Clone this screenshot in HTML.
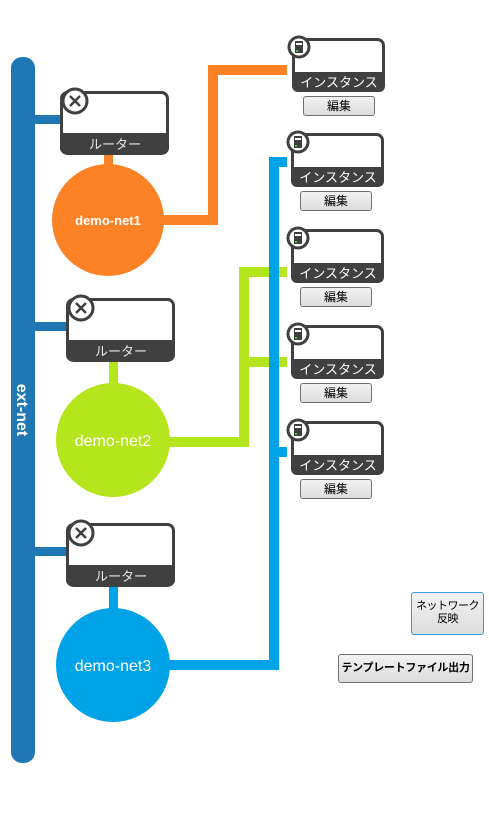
<!DOCTYPE html>
<html><head><meta charset="utf-8"><style>
body{margin:0;background:#fff;width:489px;height:824px;overflow:hidden;font-family:"Liberation Sans","Noto Sans CJK JP",sans-serif}
svg{position:absolute;left:0;top:0}
.btn{position:absolute;box-sizing:border-box;border:1px solid #707070;border-radius:3px;background:linear-gradient(#f2f2f2,#dddddd);font-size:12px;text-align:center;color:#000;white-space:nowrap;overflow:hidden}
</style></head><body>
<svg width="489" height="824">
<g id="g"></g>
</svg>
<div class="btn" style="left:303px;top:96px;width:72px;height:20px;line-height:18px">編集</div>
<div class="btn" style="left:300px;top:191px;width:72px;height:20px;line-height:18px">編集</div>
<div class="btn" style="left:300px;top:287px;width:72px;height:20px;line-height:18px">編集</div>
<div class="btn" style="left:300px;top:383px;width:72px;height:20px;line-height:18px">編集</div>
<div class="btn" style="left:300px;top:479px;width:72px;height:20px;line-height:18px">編集</div>
<div class="btn" style="left:411px;top:592px;width:73px;height:43px;border-color:#3c9bd6;line-height:13px;padding-top:7px;font-size:11px;letter-spacing:-0.5px">ネットワーク<br>反映</div>
<div class="btn" style="left:338px;top:654px;width:135px;height:29px;line-height:27px;font-weight:bold;font-size:11px;letter-spacing:-0.3px">テンプレートファイル出力</div>
<script>
const nets=["demo-net1","demo-net2","demo-net3"];
const netColors=["#fd8125","#b5e51d","#00a2e8"];
const instances=["インスタンス","インスタンス","インスタンス","インスタンス","インスタンス"];
const g=document.getElementById('g');
const NS="http://www.w3.org/2000/svg";
function el(t,a,txt){const e=document.createElementNS(NS,t);for(const k in a)e.setAttribute(k,a[k]);if(txt)e.textContent=txt;g.appendChild(e);return e;}
let e;
e=el('path',{d:"M160 220 H213 V70 H287",stroke:"#fd8125","stroke-width":10,fill:"none"});

e=el('path',{d:"M165 442 H244 V272 H287 M244 362 H287",stroke:"#b5e51d","stroke-width":10,fill:"none"});

e=el('path',{d:"M165 665 H274 V162 H287 M274 452 H287",stroke:"#00a2e8","stroke-width":10,fill:"none"});

e=el('rect',{x:11,y:57,width:24,height:706,rx:11,fill:"#1f77b4"});

e=el('text',{x:0,y:0,transform:"translate(17,410) rotate(90)","text-anchor":"middle",fill:"#fff","font-size":16,"font-weight":"bold"},"ext-net");

const routerY=[91,298,523], routerX=[60,66,66], netC=[[108,220,56],[113,440,57],[113,665,57]];
for(let i=0;i<3;i++){
 const x=routerX[i],y=routerY[i];
 e=el('rect',{x:34,y:y+24,width:x-34+2,height:9,fill:"#1f77b4"});
 
 e=el('rect',{x:netC[i][0]-4,y:y+62,width:9,height:netC[i][1]-netC[i][2]-y-60,fill:netColors[i]});
 
 e=el('rect',{x:x+1.5,y:y+1.5,width:106,height:61,rx:6,fill:"#fff",stroke:"#404040","stroke-width":3});
 
 e=el('path',{d:`M${x} ${y+42} H${x+109} V${y+57} a6 6 0 0 1 -6 6 H${x+6} a6 6 0 0 1 -6 -6 Z`,fill:"#404040"});
 e=el('text',{x:x+55,y:y+58,"text-anchor":"middle",fill:"#e8e8e8","font-size":13},"ルーター");
 
 e=el('circle',{cx:x+15,cy:y+10,r:12,fill:"#fff",stroke:"#404040","stroke-width":3});
 
 el('path',{d:`M${x+10} ${y+5} L${x+20} ${y+15} M${x+20} ${y+5} L${x+10} ${y+15}`,stroke:"#404040","stroke-width":2.5});
 e=el('circle',{cx:netC[i][0],cy:netC[i][1],r:netC[i][2],fill:netColors[i]});
 
 e=el('text',{x:netC[i][0],y:netC[i][1]+(i?6:5),"text-anchor":"middle",fill:"#fff","font-size":i?16:13,"font-weight":i?"normal":"bold"},nets[i]);
 
}
const instY=[38,133,229,325,421];
instances.forEach((n,i)=>{
 const x=i?291:292,y=instY[i];
 e=el('rect',{x:x+1.5,y:y+1.5,width:90,height:51,rx:6,fill:"#fff",stroke:"#404040","stroke-width":3});
 
 el('path',{d:`M${x} ${y+34} H${x+93} V${y+48} a6 6 0 0 1 -6 6 H${x+6} a6 6 0 0 1 -6 -6 Z`,fill:"#404040"});
 e=el('text',{x:x+47,y:y+49,"text-anchor":"middle",fill:"#fff","font-size":13},n);
 
 e=el('circle',{cx:x+7,cy:y+9,r:10,fill:"#fff",stroke:"#404040","stroke-width":3});
 
 el('rect',{x:x+3,y:y+3,width:8,height:12,fill:"#404040"});
 el('rect',{x:x+4,y:y+5,width:6,height:2,fill:"#fff"});
 el('rect',{x:x+4,y:y+12,width:2,height:2,fill:"#2ecc40"});
});
</script>
</body></html>
